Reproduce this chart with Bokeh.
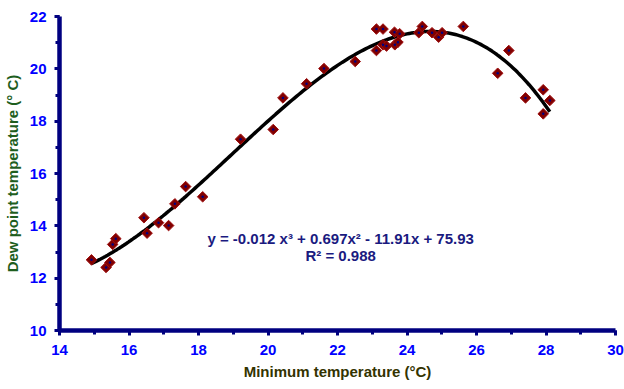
import numpy as np
from bokeh.plotting import figure
from bokeh.models import Range1d, SingleIntervalTicker, Label
from bokeh.embed import file_html
from bokeh.resources import INLINE

# Minimum temperature (°C)
min_temp = [14.92, 15.34, 15.45, 15.53, 15.62, 16.43, 16.52, 16.85, 17.14, 17.32,
            17.63, 18.12, 19.21, 20.15, 20.43, 21.11, 21.61, 22.51, 23.12, 23.31,
            23.64, 23.79, 23.12, 23.31, 23.41, 23.65, 23.74, 24.34, 24.44, 24.72,
            24.91, 25.01, 25.62, 26.93, 26.61, 27.41, 27.92, 28.11, 27.92]
# Dew point temperature (°C)
dew_point = [12.70, 12.41, 12.60, 13.29, 13.51, 14.31, 13.72, 14.12, 14.01, 14.84,
             15.50, 15.11, 17.31, 17.68, 18.89, 19.43, 20.01, 20.28, 21.52, 21.52,
             21.40, 21.34, 20.70, 20.92, 20.87, 20.92, 21.02, 21.38, 21.62, 21.38,
             21.21, 21.38, 21.62, 20.70, 19.83, 18.89, 19.20, 18.79, 18.28]

equation_text = "y = -0.012 x³ + 0.697x² - 11.91x + 75.93"
r2_text = "R² = 0.988"

# cubic trend line fitted to the data (as the spreadsheet trendline)
coef = np.polyfit(min_temp, dew_point, 3)
xs = np.linspace(min(min_temp), max(min_temp), 200)
ys = np.polyval(coef, xs)

p = figure(width=624, height=389, output_backend="svg", toolbar_location=None,
           x_range=Range1d(14, 30), y_range=Range1d(10, 22),
           min_border_left=59, min_border_right=9, min_border_top=16, min_border_bottom=59)
p.outline_line_color = None
p.xgrid.visible = False
p.ygrid.visible = False
p.background_fill_color = "white"
p.border_fill_color = "white"

p.line(xs, ys, line_color="black", line_width=3.5)
p.scatter(min_temp, dew_point, marker="square", size=7.5, angle=np.pi / 4,
          fill_color="#800000", line_color="#A01010", line_width=1)
p.scatter(min_temp, dew_point, marker="circle", size=2.5, fill_color="#000080",
          line_color=None)

for ax in (p.xaxis[0], p.yaxis[0]):
    ax.ticker = SingleIntervalTicker(interval=2, num_minor_ticks=2)
    ax.axis_line_color = "#000080"
    ax.axis_line_width = 4.5
    ax.major_tick_line_color = "#000080"
    ax.major_tick_line_width = 3
    ax.major_tick_out = 5
    ax.major_tick_in = 0
    ax.minor_tick_line_color = "#000080"
    ax.minor_tick_line_width = 3
    ax.minor_tick_out = 4
    ax.minor_tick_in = 0
    ax.major_label_text_color = "#0000FF"
    ax.major_label_text_font = "Liberation Sans"
    ax.major_label_text_font_style = "bold"
    ax.major_label_text_font_size = "15px"
    ax.axis_label_text_font = "Liberation Sans"
    ax.axis_label_text_font_style = "bold"
    ax.axis_label_text_font_size = "15px"

p.xaxis.axis_label = "Minimum temperature (°C)"
p.xaxis.axis_label_text_color = "#333300"
p.xaxis.major_label_standoff = 9
p.xaxis.axis_label_standoff = 5
p.yaxis.axis_label = "Dew point temperature (° C)"
p.yaxis.axis_label_text_color = "#1E5E1E"
p.yaxis.major_label_standoff = 8
p.yaxis.axis_label_standoff = 6

for txt, yy in ((equation_text, 13.52), (r2_text, 12.87)):
    p.add_layout(Label(x=22.09, y=yy, text=txt, text_align="center",
                       text_baseline="middle", text_color="#1A1A80",
                       text_font="Liberation Sans", text_font_style="bold",
                       text_font_size="15px"))

open("out.html", "w").write(file_html(p, INLINE))
